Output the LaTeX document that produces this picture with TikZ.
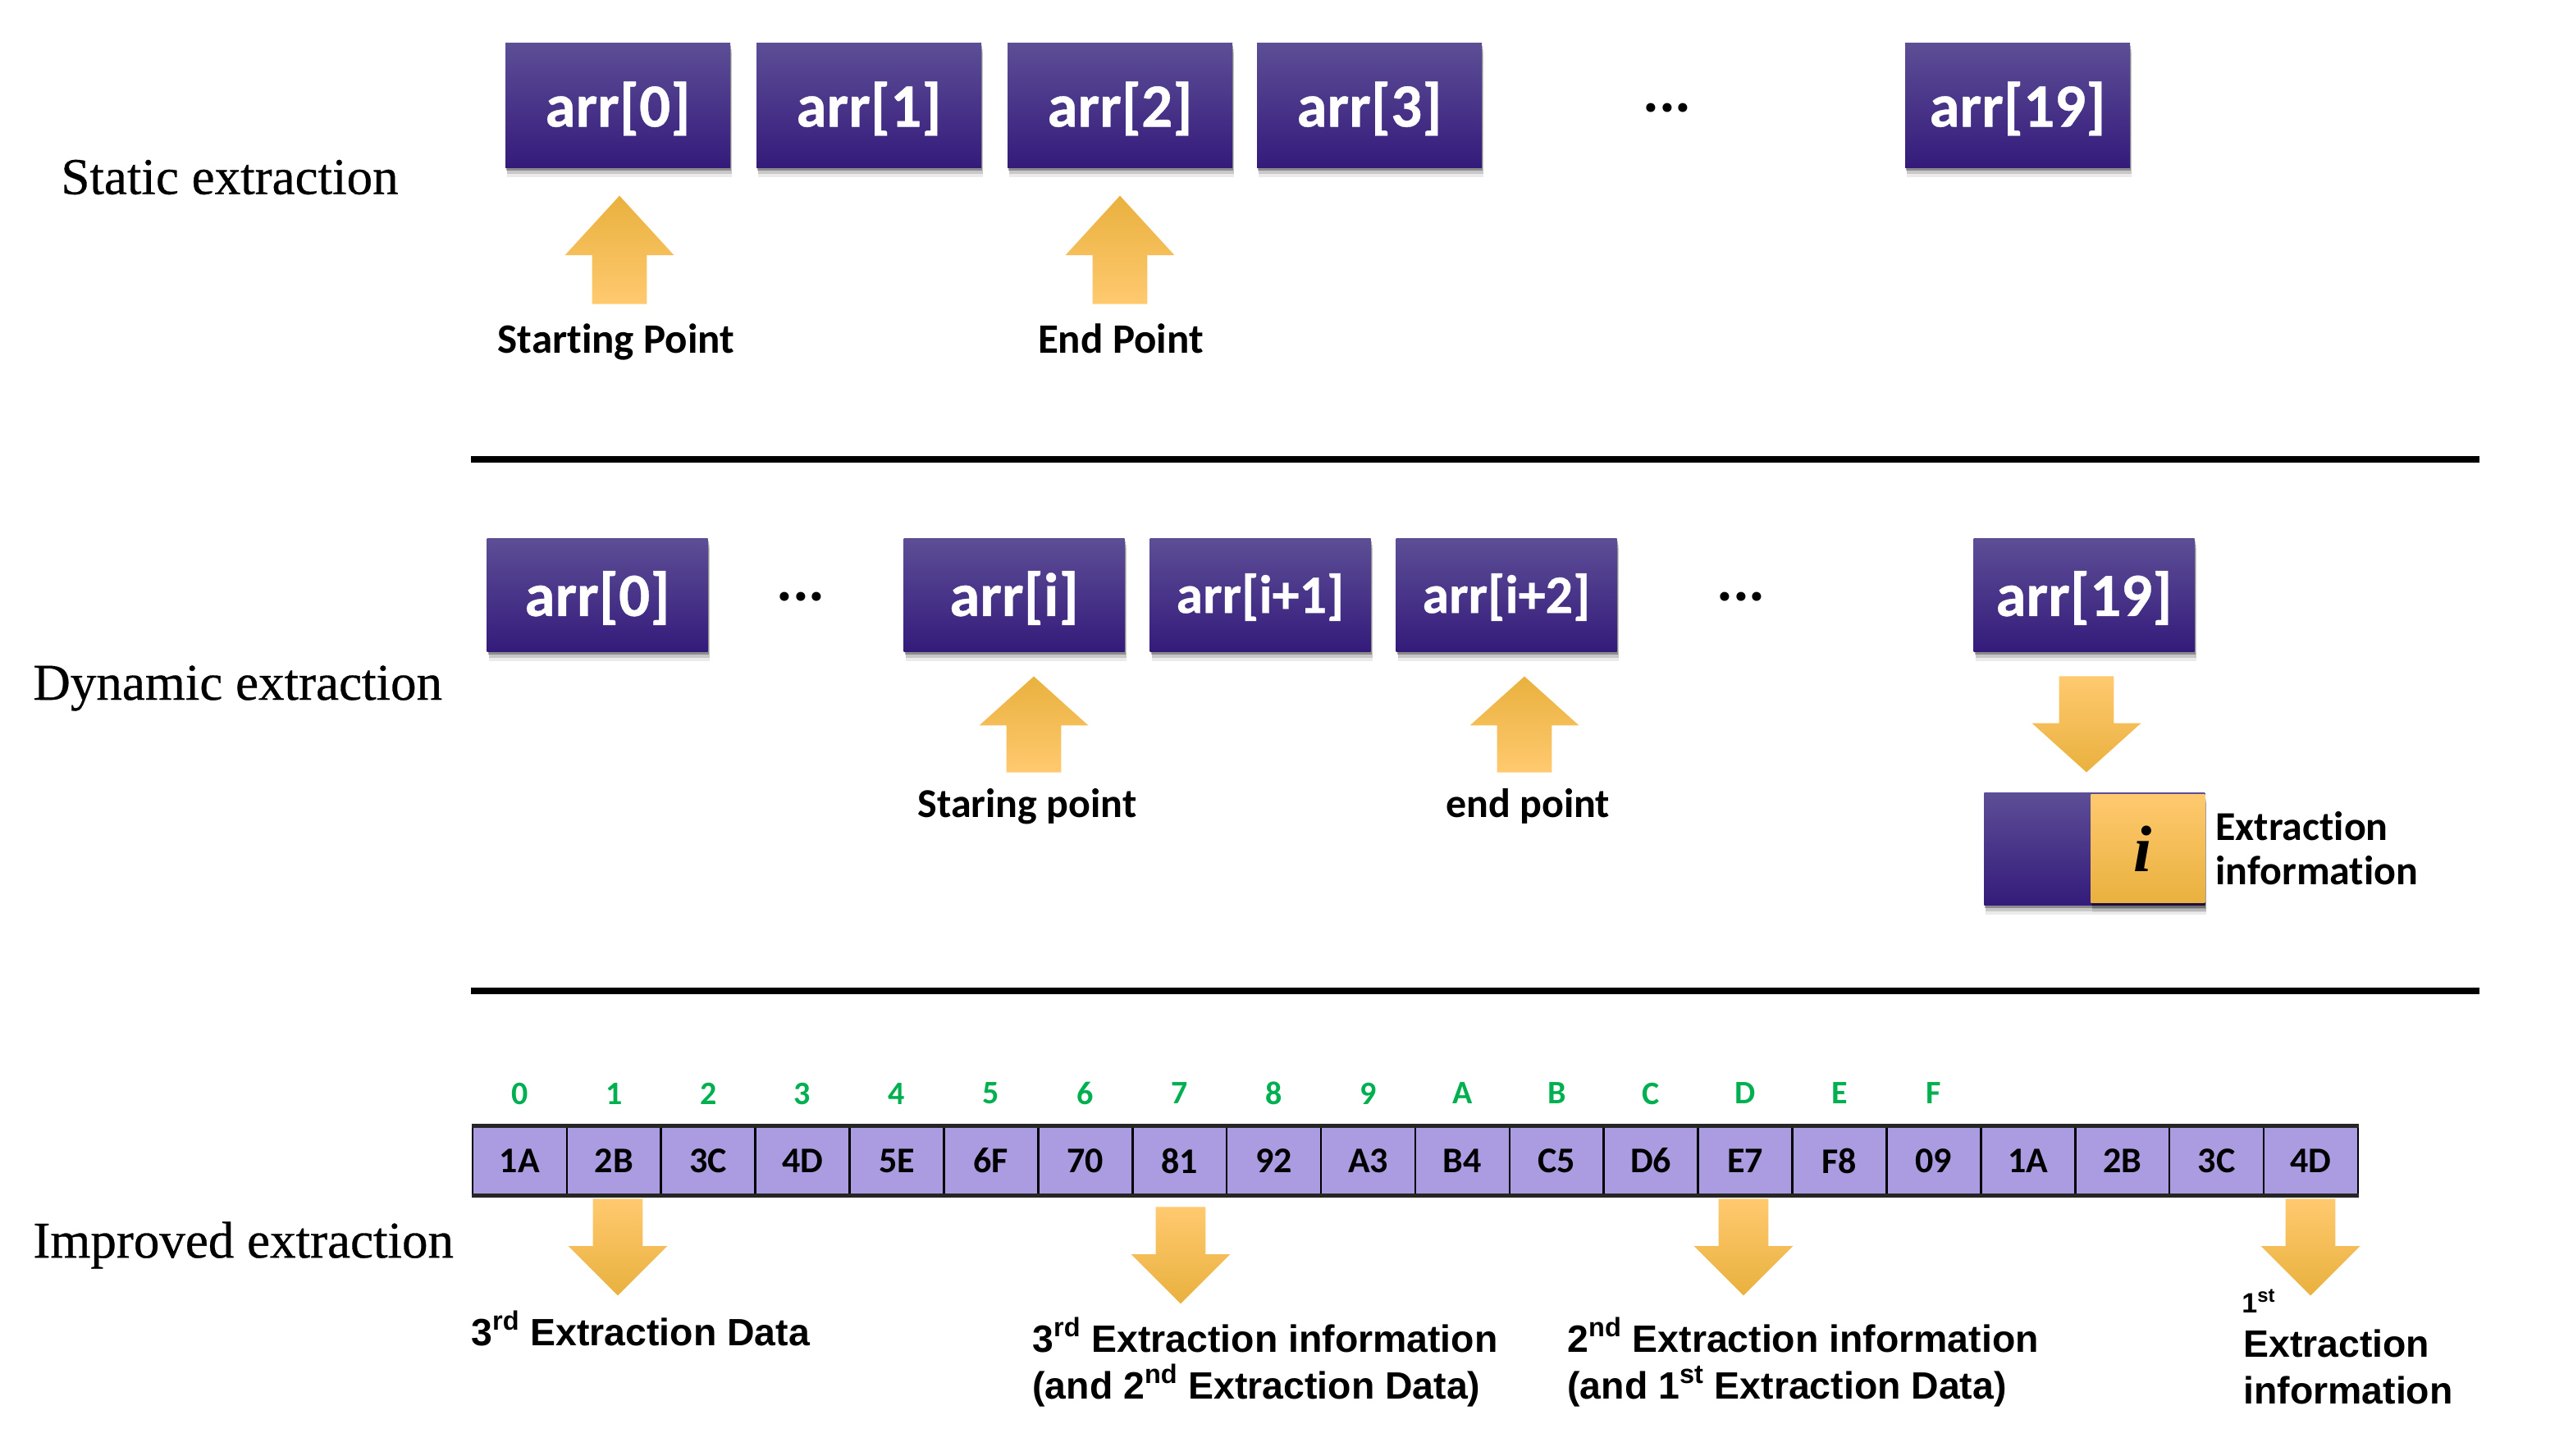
\documentclass[tikz,border=0pt]{standalone}
\usepackage{fontspec}
\setmainfont{Liberation Serif}
\newfontfamily\heavyserif[FakeBold=0.5]{Liberation Serif}
\newfontfamily\calibri[Ligatures=NoCommon]{Carlito}
\newfontfamily\calibriheavy[Ligatures=NoCommon,FakeBold=0.5]{Carlito}
\newfontfamily\arial{Liberation Sans}
\usetikzlibrary{positioning,shadows,shapes.arrows}
\definecolor{purptop}{HTML}{5D4E96}
\definecolor{purpmid}{HTML}{412386}
\definecolor{purpbot}{HTML}{341B7B}
\definecolor{goldlight}{HTML}{FFC96F}
\definecolor{goldmid}{HTML}{FFC352}
\definecolor{golddark}{HTML}{E9B13E}
\definecolor{celllilac}{HTML}{AB9BE0}
\definecolor{idxgreen}{HTML}{00B050}
\tikzset{
  softshadow/.style={drop shadow={shadow xshift=1pt,shadow yshift=-6pt,opacity=.08,fill=black},
    drop shadow={shadow xshift=1pt,shadow yshift=-4pt,opacity=.15,fill=black},
    drop shadow={shadow xshift=.5pt,shadow yshift=-2pt,opacity=.3,fill=black}},
  arrbox/.style={softshadow,top color=purptop,middle color=purpmid,bottom color=purpbot,
    text=white,inner sep=0pt,font=\calibriheavy\bfseries\fontsize{37.5}{37.5}\selectfont,minimum width=137pt,minimum height=76pt},
  arrboxsmall/.style={arrbox,minimum width=134.5pt,minimum height=69pt},
  goldup/.style={single arrow,shape border rotate=90,anchor=tip,draw=none,inner sep=16.5pt,
    top color=golddark,middle color=goldmid,bottom color=goldlight,single arrow head extend=16.5pt,
    minimum height=#1},
  golddown/.style={single arrow,shape border rotate=270,anchor=tip,draw=none,inner sep=15pt,
    top color=goldlight,middle color=goldmid,bottom color=golddark,single arrow head extend=15pt,
    minimum height=#1,single arrow tip angle=90},
  sectionlabel/.style={anchor=west,inner sep=0pt,font=\heavyserif\fontsize{31.5}{31.5}\selectfont},
  pointlabel/.style={anchor=base,inner sep=0pt,font=\calibri\bfseries\fontsize{25.5}{25.5}\selectfont},
  extlabel/.style={anchor=north west,inner sep=0pt,align=left,font=\arial\bfseries\fontsize{23.2}{28.5}\selectfont},
  cellbox/.style={draw=black,line width=1.3pt,fill=celllilac,inner sep=0pt,minimum width=57.45pt,minimum height=41pt,
    font=\calibri\bfseries\fontsize{22}{22}\selectfont},
  idxlabel/.style={text=idxgreen,inner sep=0pt,font=\calibri\bfseries\fontsize{20}{20}\selectfont},
  dotslabel/.style={anchor=base,inner sep=0pt,font=\calibri\bfseries\fontsize{37}{37}\selectfont},
  rule/.style={line width=4pt}
}
\begin{document}
\begin{tikzpicture}[x=1pt,y=-1pt]
\useasboundingbox (0,0) rectangle (1568,887);
% section names
\node [sectionlabel] (lstatic) at (37,108) {Static extraction};
\node [sectionlabel] (ldynamic) at (20,419.5) {Dynamic extraction};
\node [sectionlabel] (limproved) at (20,759) {Improved extraction};
% static row
\foreach \name/\x/\txt in {sa/376.5/{arr[0]},sb/529.5/{arr[1]},sc/682.5/{arr[2]},sd/834.5/{arr[3]},se/1229.5/{arr[19]}}
  \node [arrbox,text depth=1pt] (\name) at (\x,64) {\txt};
\node [dotslabel] (sdots) at (1016,68) {...};
\node [goldup=66pt,single arrow tip angle=85] (sup1) at (377.5,119) {};
\node [goldup=66pt,single arrow tip angle=85] (sup2) at (682.5,119) {};
\node [pointlabel] (tstart) at (375.5,215) {Starting Point};
\node [pointlabel] (tend) at (683,215) {End Point};
% separators
\coordinate (r1a) at (287,280);
\coordinate (r1b) at (1511,280);
\coordinate (r2a) at (287,604);
\coordinate (r2b) at (1511,604);
\draw [rule] (r1a) -- (r1b);
\draw [rule] (r2a) -- (r2b);
% dynamic row
\foreach \name/\x/\txt in {da/364/{arr[0]},db/618/{arr[i]},dc/768/{},dd/918/{},de/1270/{arr[19]}}
  \node [arrboxsmall,text depth=1.5pt] (\name) at (\x,362.5) {\txt};
\node [font=\calibriheavy\bfseries\fontsize{33}{33}\selectfont,text=white,inner sep=0pt,yshift=-1.5pt] (dctxt) at (dc) {arr[i+1]};
\node [font=\calibriheavy\bfseries\fontsize{33}{33}\selectfont,text=white,inner sep=0pt,yshift=-1.5pt] (ddtxt) at (dd) {arr[i+2]};
\node [dotslabel] (ddots1) at (488,366) {...};
\node [dotslabel] (ddots2) at (1061,366) {...};
\node [goldup=58.5pt,single arrow tip angle=96] (dup1) at (630,412) {};
\node [goldup=58.5pt,single arrow tip angle=96] (dup2) at (929,412) {};
\node [pointlabel,font=\calibri\bfseries\fontsize{25}{25}\selectfont] (tstaring) at (626,498) {Staring point};
\node [pointlabel,font=\calibri\bfseries\fontsize{25}{25}\selectfont] (tendp) at (931,498) {end point};
\node [golddown=58.5pt,inner sep=16.5pt,single arrow head extend=16.5pt,single arrow tip angle=96] (ddown) at (1271.5,471) {};
\node [arrbox,anchor=north west,minimum width=134.5pt,minimum height=68.5pt] (ibox) at (1209,483) {};
\node [softshadow,anchor=north east,top color=goldlight,middle color=goldmid,bottom color=golddark,inner sep=0pt,
  minimum width=69.5pt,minimum height=66pt,font=\bfseries\itshape\fontsize{40}{40}\selectfont] (igold) at (ibox.north east) [yshift=-1pt] {\hspace*{-6pt}i};
\node [anchor=west,inner sep=0pt,align=left,font=\calibri\bfseries\fontsize{25}{27}\selectfont] (tinfo) at (1350,517) {Extraction\\information};
% byte row
\foreach \val [count=\i from 0] in {1A,2B,3C,4D,5E,6F,70,81,92,A3,B4,C5,D6,E7,F8,09,1A,2B,3C,4D}
  \node [cellbox] (cell\i) at ({316.7+57.45*\i},707.5) {\val};
\draw [line width=2.5pt,black!85] (cell0.north west) -- (cell19.north east);
\draw [line width=2.5pt,black!85] (cell0.south west) -- (cell19.south east);
\foreach \val [count=\i from 0] in {0,1,2,3,4,5,6,7,8,9,A,B,C,D,E,F}
  \node [idxlabel] (idx\i) at ({316.7+57.45*\i},666.5) {\val};
\node [golddown=59pt] (bd1) at (376.5,790) {};
\node [golddown=59pt] (bd2) at (719.5,795) {};
\node [golddown=59pt] (bd3) at (1062.5,790) {};
\node [golddown=59pt] (bd4) at (1408,790) {};
\node [extlabel] (t3data) at (287,799) {3\textsuperscript{rd} Extraction Data};
\node [extlabel] (t3info) at (629,803) {3\textsuperscript{rd} Extraction information\\(and 2\textsuperscript{nd} Extraction Data)};
\node [extlabel] (t2info) at (955,803) {2\textsuperscript{nd} Extraction information\\(and 1\textsuperscript{st} Extraction Data)};
\node [extlabel,font=\arial\bfseries\fontsize{17}{17}\selectfont] (t1st) at (1366,786) {1\textsuperscript{st}};
\node [extlabel] (t1info) at (1367,810) {Extraction\\information};
\end{tikzpicture}
\end{document}
